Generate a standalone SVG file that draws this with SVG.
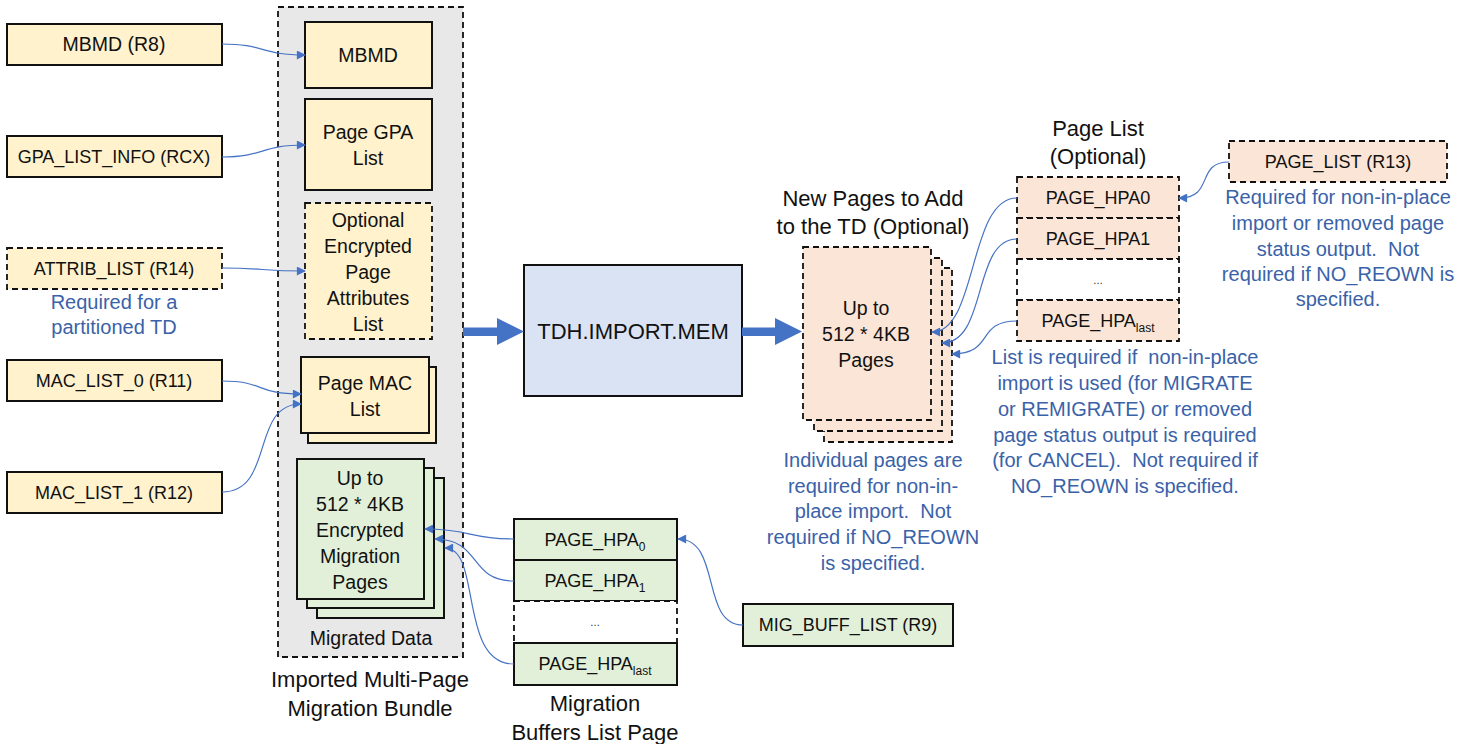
<svg xmlns="http://www.w3.org/2000/svg" width="1464" height="744" viewBox="0 0 1464 744">
<defs>
<style>
text{font-family:"Liberation Sans",Arial,sans-serif;fill:#111;text-anchor:middle;white-space:pre}
.lbl{font-size:18px}
.lb2{font-size:19.5px}
.big{font-size:22px}
.note{font-size:20px;fill:#3a62a8}
.box{stroke:#111;stroke-width:2}
.dash{stroke:#111;stroke-width:1.8;stroke-dasharray:6 4}
.y{fill:#fff2cc}
.g{fill:#e2f0d9}
.p{fill:#fbe5d6}
.w{fill:#ffffff}
.con{fill:none;stroke:#4472c4;stroke-width:1.2}
.sub{font-size:12px}
</style>
<marker id="ah" viewBox="0 0 10 10" refX="9" refY="5" markerWidth="10" markerHeight="9" markerUnits="userSpaceOnUse" orient="auto">
<path d="M0,0 L10,5 L0,10 Z" fill="#4472c4"/>
</marker>
</defs>

<!-- Bundle container -->
<g id="bundle">
<rect x="278" y="7" width="185" height="650" fill="#e8e8e8" class="dash"/>
<text class="lb2" x="371" y="645">Migrated Data</text>
<text class="big" x="370" y="687">Imported Multi-Page</text>
<text class="big" x="370" y="716">Migration Bundle</text>
</g>

<g id="src-mbmd"><rect x="7" y="24" width="215" height="41" class="box y"/><text class="lb2" x="114" y="51">MBMD (R8)</text></g>
<g id="src-gpa"><rect x="7" y="136" width="215" height="41" class="box y"/><text class="lbl" x="114" y="163">GPA_LIST_INFO (RCX)</text></g>
<g id="src-attrib"><rect x="7" y="248" width="215" height="41" class="dash y"/><text class="lbl" x="114" y="275">ATTRIB_LIST (R14)</text>
<text class="note" x="114" y="309">Required for a</text><text class="note" x="114" y="334">partitioned TD</text></g>
<g id="src-mac0"><rect x="7" y="360" width="215" height="41" class="box y"/><text class="lbl" x="114" y="387">MAC_LIST_0 (R11)</text></g>
<g id="src-mac1"><rect x="7" y="472" width="215" height="41" class="box y"/><text class="lbl" x="114" y="499">MAC_LIST_1 (R12)</text></g>

<g id="mbmd"><rect x="305" y="22" width="127" height="66" class="box y"/><text class="lb2" x="368" y="62">MBMD</text></g>
<g id="gpa-list"><rect x="305" y="99" width="127" height="91" class="box y"/><text class="lb2" x="368" y="139">Page GPA</text><text class="lb2" x="368" y="165">List</text></g>
<g id="attrib-list"><rect x="305" y="203" width="127" height="136" class="dash y"/>
<text class="lb2" x="368" y="227">Optional</text><text class="lb2" x="368" y="253">Encrypted</text><text class="lb2" x="368" y="279">Page</text><text class="lb2" x="368" y="305">Attributes</text><text class="lb2" x="368" y="331">List</text></g>
<g id="mac-list"><rect x="308" y="367" width="128" height="76" class="box y"/><rect x="301" y="357" width="128" height="76" class="box y"/>
<text class="lb2" x="365" y="390">Page MAC</text><text class="lb2" x="365" y="416">List</text></g>
<g id="mig-pages"><rect x="317" y="478" width="127" height="140" class="box g"/><rect x="307" y="468" width="127" height="140" class="box g"/><rect x="297" y="459" width="127" height="140" class="box g"/>
<text class="lb2" x="360" y="485">Up to</text><text class="lb2" x="360" y="511">512 * 4KB</text><text class="lb2" x="360" y="537">Encrypted</text><text class="lb2" x="360" y="563">Migration</text><text class="lb2" x="360" y="589">Pages</text></g>

<g id="mig-buf-list">
<rect x="514" y="519" width="163" height="41" class="box g"/>
<rect x="514" y="560" width="163" height="41" class="box g"/>
<rect x="514" y="601" width="163" height="42" class="dash w"/>
<rect x="514" y="643" width="163" height="42" class="box g"/>
<text class="lbl" x="595" y="546">PAGE_HPA<tspan class="sub" dy="5">0</tspan></text>
<text class="lbl" x="595" y="587">PAGE_HPA<tspan class="sub" dy="5">1</tspan></text>
<text x="595" y="626" style="font-size:10px">…</text>
<text class="lbl" x="595" y="670">PAGE_HPA<tspan class="sub" dy="5">last</tspan></text>
<text class="big" x="595" y="711">Migration</text><text class="big" x="595" y="740">Buffers List Page</text>
</g>
<g id="mig-buff-reg"><rect x="743" y="604" width="210" height="42" class="box g"/><text class="lbl" x="848" y="631">MIG_BUFF_LIST (R9)</text></g>

<g id="tdh"><rect x="524" y="265" width="218" height="131" fill="#dae3f3" class="box"/><text x="633" y="339" style="font-size:22px">TDH.IMPORT.MEM</text></g>

<g id="new-pages">
<rect x="824" y="268" width="128" height="174" class="dash p"/>
<rect x="814" y="258" width="128" height="173" class="dash p"/>
<rect x="803" y="247" width="128" height="173" class="dash p"/>
<text class="lb2" x="866" y="315">Up to</text><text class="lb2" x="866" y="341">512 * 4KB</text><text class="lb2" x="866" y="367">Pages</text>
<text class="big" x="873" y="206">New Pages to Add</text><text class="big" x="873" y="234">to the TD (Optional)</text>
<text class="note" x="873" y="467">Individual pages are</text><text class="note" x="873" y="493">required for non-in-</text><text class="note" x="873" y="518">place import.  Not</text><text class="note" x="873" y="544">required if NO_REOWN</text><text class="note" x="873" y="570">is specified.</text>
</g>

<g id="page-list">
<rect x="1017" y="177" width="162" height="41" class="dash p"/>
<rect x="1017" y="218" width="162" height="41" class="dash p"/>
<rect x="1017" y="259" width="162" height="41" class="dash w"/>
<rect x="1017" y="300" width="162" height="41" class="dash p"/>
<text class="lbl" x="1098" y="204">PAGE_HPA0</text>
<text class="lbl" x="1098" y="245">PAGE_HPA1</text>
<text x="1098" y="284" style="font-size:10px">…</text>
<text class="lbl" x="1098" y="327">PAGE_HPA<tspan class="sub" dy="5">last</tspan></text>
<text class="big" x="1098" y="136">Page List</text><text class="big" x="1098" y="164">(Optional)</text>
<text class="note" x="1125" y="364">List is required if  non-in-place</text>
<text class="note" x="1125" y="390">import is used (for MIGRATE</text>
<text class="note" x="1125" y="416">or REMIGRATE) or removed</text>
<text class="note" x="1125" y="442">page status output is required</text>
<text class="note" x="1125" y="467">(for CANCEL).  Not required if</text>
<text class="note" x="1125" y="493">NO_REOWN is specified.</text>
</g>

<g id="page-list-reg"><rect x="1229" y="141" width="218" height="41" class="dash p"/><text class="lbl" x="1338" y="168">PAGE_LIST (R13)</text>
<text class="note" x="1338" y="204">Required for non-in-place</text><text class="note" x="1338" y="230">import or removed page</text><text class="note" x="1338" y="256">status output.  Not</text><text class="note" x="1338" y="281">required if NO_REOWN is</text><text class="note" x="1338" y="306">specified.</text></g>

<g id="connectors">
<path class="con" marker-end="url(#ah)" d="M222,44 C265,44 260,55 305,55"/>
<path class="con" marker-end="url(#ah)" d="M222,157 C265,157 260,145 305,145"/>
<path class="con" marker-end="url(#ah)" d="M222,268 C265,268 260,271 305,271"/>
<path class="con" marker-end="url(#ah)" d="M222,381 C265,381 255,394 301,394"/>
<path class="con" marker-end="url(#ah)" d="M222,492 C275,492 250,404 301,404"/>
<path class="con" marker-end="url(#ah)" d="M514,539 C470,539 470,529 425,529"/>
<path class="con" marker-end="url(#ah)" d="M514,581 C468,581 482,539 435,539"/>
<path class="con" marker-end="url(#ah)" d="M514,664 C458,664 482,548 445,548"/>
<path class="con" marker-end="url(#ah)" d="M743,625 C700,625 722,539 678,539"/>
<path class="con" marker-end="url(#ah)" d="M1017,198 C968,198 978,332 932,332"/>
<path class="con" marker-end="url(#ah)" d="M1017,239 C972,239 988,343 942,343"/>
<path class="con" marker-end="url(#ah)" d="M1017,321 C975,321 995,354 952,354"/>
<path class="con" marker-end="url(#ah)" d="M1229,162 C1195,162 1215,198 1179,198"/>
<path fill="#4472c4" d="M463,327.5 H497 V318 L524,331.5 L497,345 V336 H463 Z"/>
<path fill="#4472c4" d="M742,327.5 H775 V318 L802,331.5 L775,345 V336 H742 Z"/>
</g>
</svg>
